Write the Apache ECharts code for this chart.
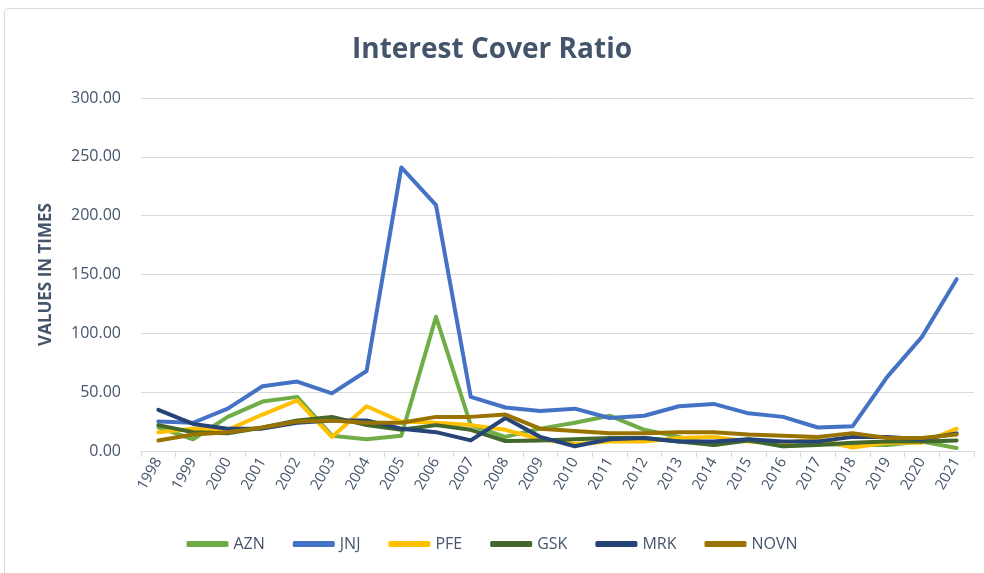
<!DOCTYPE html>
<html>
<head>
<meta charset="utf-8">
<title>Interest Cover Ratio</title>
<script src="https://cdn.jsdelivr.net/npm/echarts@6/dist/echarts.min.js"></script>
<style>
  html, body { margin: 0; padding: 0; background: #fff; }
  #chart { width: 984px; height: 573px; }
</style>
</head>
<body>
<div id="chart"></div>
<script>
// years on the x axis
var years = ["1998","1999","2000","2001","2002","2003","2004","2005","2006","2007","2008","2009",
             "2010","2011","2012","2013","2014","2015","2016","2017","2018","2019","2020","2021"];

// interest cover, values in times
var azn  = [20, 10, 29, 42, 46, 13, 10, 13, 114, 22, 12, 19, 24, 30, 18, 12, 5, 10, 4, 6, 5, 5, 8, 2.5];
var jnj  = [25, 24, 36, 55, 59, 49, 68, 241, 209, 46, 37, 34, 36, 28, 30, 38, 40, 32, 29, 20, 21, 63, 97, 146];
var pfe  = [16, 19, 18, 31, 43, 12, 38, 25, 24, 22, 18, 10, 6, 8, 8, 11, 12, 8, 7, 10, 3, 7, 7, 19];
var gsk  = [22, 16, 15, 20, 26, 29, 22, 18, 22, 18, 8.5, 9, 10, 11, 11, 8, 5, 9, 4, 5, 7, 8, 8, 9];
var mrk  = [35, 23, 19, 19, 24, 26, 26, 19, 16, 9, 28, 12, 4, 10, 11, 8, 8, 10, 8, 8, 12, 12, 10, 15];
var novn = [9, 14, 16, 20, 25, 26, 24, 24, 29, 29, 31, 19, 17, 15, 15, 16, 16, 14, 13, 12, 15, 11, 11, 14];

var seriesNames = ["AZN", "JNJ", "PFE", "GSK", "MRK", "NOVN"];
var seriesData = [azn, jnj, pfe, gsk, mrk, novn];
var colors = ["#70AD47", "#4472C4", "#FFC000", "#43682B", "#264478", "#997300"];

var textColor = "#44546A";
var font = "'Open Sans', 'Noto Sans', sans-serif";

var chart = echarts.init(document.getElementById("chart"));

var series = [];
for (var i = 0; i < seriesNames.length; i++) {
  series.push({
    name: seriesNames[i],
    type: "line",
    data: seriesData[i],
    symbol: "none",
    lineStyle: { width: 4, color: colors[i], cap: "round", join: "round" },
    itemStyle: { color: colors[i] }
  });
}

chart.setOption({
  animation: false,
  color: colors,
  graphic: [{
    type: "rect",
    shape: { x: 4.5, y: 8.5, width: 990, height: 570, r: 4 },
    style: { fill: "none", stroke: "#D9D9D9", lineWidth: 1 },
    silent: true
  }],
  title: {
    text: "Interest Cover Ratio",
    left: "center",
    top: 31,
    textStyle: { color: textColor, fontSize: 28, fontWeight: "bold", fontFamily: font }
  },
  legend: {
    data: seriesNames,
    bottom: 16,
    left: "center",
    itemWidth: 42,
    itemHeight: 6,
    itemGap: 28,
    icon: "roundRect",
    textStyle: { color: textColor, fontSize: 16, fontFamily: font }
  },
  grid: { left: 141, right: 10, top: 98, bottom: 122 },
  xAxis: {
    type: "category",
    data: years,
    boundaryGap: true,
    axisLine: { lineStyle: { color: "#D9D9D9", width: 1 } },
    axisTick: { show: true, length: 6, lineStyle: { color: "#D9D9D9" } },
    axisLabel: { rotate: 60, color: textColor, fontSize: 15, fontFamily: font, margin: 8, interval: 0 }
  },
  yAxis: {
    type: "value",
    min: 0,
    max: 300,
    interval: 50,
    name: "VALUES IN TIMES",
    nameLocation: "middle",
    nameGap: 86,
    nameTextStyle: { color: textColor, fontSize: 17, fontWeight: "bold", fontFamily: font },
    axisLine: { show: false },
    axisTick: { show: false },
    splitLine: { lineStyle: { color: "#D9D9D9", width: 1 } },
    axisLabel: {
      color: textColor, fontSize: 16, fontFamily: font, margin: 20,
      formatter: function (v) { return v.toFixed(2); }
    }
  },
  series: series
});
</script>
</body>
</html>
